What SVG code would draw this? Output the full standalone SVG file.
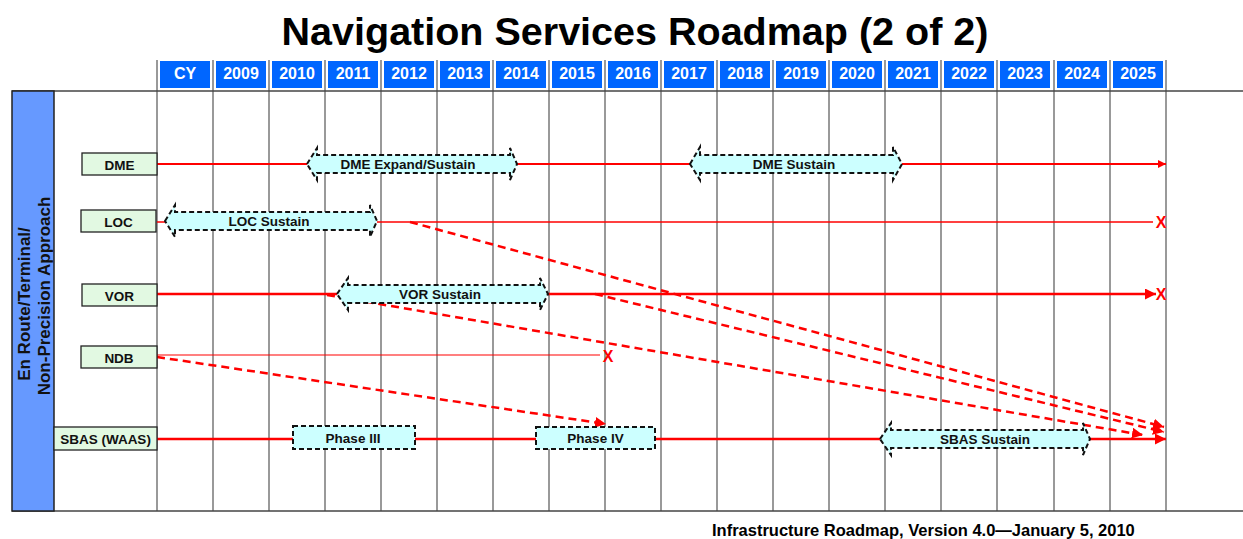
<svg xmlns="http://www.w3.org/2000/svg" width="1243" height="539" viewBox="0 0 1243 539">
  <style>
    text { font-family: "Liberation Sans", Arial, sans-serif; font-weight: bold; }
    .title { font-size: 39.5px; fill: #000; }
    .foot { font-size: 16.5px; fill: #000; }
    .yr { fill: #0066FF; }
    .yrt { font-size: 16px; fill: #fff; text-anchor: middle; }
    .grid { stroke: #999; stroke-width: 2; }
    .frame { stroke: #444; stroke-width: 1.5; fill: none; }
    .lbl { fill: #E2F9E2; stroke: #222; stroke-width: 1.3; }
    .lblt { font-size: 13.5px; fill: #111; text-anchor: middle; }
    .act { fill: #CCFFFF; stroke: #111; stroke-width: 2; stroke-dasharray: 5 3; }
    .actt { font-size: 13.5px; fill: #111; text-anchor: middle; }
    .red { stroke: #FF0000; fill: none; }
    .dash { stroke: #FF0000; stroke-width: 2.5; stroke-dasharray: 8 5; fill: none; }
    .x { font-size: 16px; fill: #FF0000; text-anchor: middle; }
    .cat { font-size: 17px; fill: #111; text-anchor: middle; }
  </style>
  <defs>
    <marker id="ah" viewBox="0 0 10 10" refX="10" refY="5" markerUnits="userSpaceOnUse" markerWidth="11" markerHeight="8" orient="auto">
      <path d="M0,0 L10,5 L0,10 Z" fill="#FF0000"/>
    </marker>
    <marker id="ahBig" viewBox="0 0 10 10" refX="10" refY="5" markerUnits="userSpaceOnUse" markerWidth="11" markerHeight="11" orient="auto">
      <path d="M0,0 L10,5 L0,10 Z" fill="#FF0000"/>
    </marker>
  </defs>

  <rect width="1243" height="539" fill="#fff"/>

  <text class="title" x="635" y="45" text-anchor="middle">Navigation Services Roadmap (2 of 2)</text>

  <!-- year header -->
  <g id="years">
    <rect class="yr" x="160" y="61" width="50" height="27"/><text class="yrt" x="185" y="79">CY</text>
    <rect class="yr" x="216" y="61" width="50" height="27"/><text class="yrt" x="241" y="79">2009</text>
    <rect class="yr" x="272" y="61" width="50" height="27"/><text class="yrt" x="297" y="79">2010</text>
    <rect class="yr" x="328" y="61" width="50" height="27"/><text class="yrt" x="353" y="79">2011</text>
    <rect class="yr" x="384" y="61" width="50" height="27"/><text class="yrt" x="409" y="79">2012</text>
    <rect class="yr" x="440" y="61" width="50" height="27"/><text class="yrt" x="465" y="79">2013</text>
    <rect class="yr" x="496" y="61" width="50" height="27"/><text class="yrt" x="521" y="79">2014</text>
    <rect class="yr" x="552" y="61" width="50" height="27"/><text class="yrt" x="577" y="79">2015</text>
    <rect class="yr" x="608" y="61" width="50" height="27"/><text class="yrt" x="633" y="79">2016</text>
    <rect class="yr" x="664" y="61" width="50" height="27"/><text class="yrt" x="689" y="79">2017</text>
    <rect class="yr" x="720" y="61" width="50" height="27"/><text class="yrt" x="745" y="79">2018</text>
    <rect class="yr" x="776" y="61" width="50" height="27"/><text class="yrt" x="801" y="79">2019</text>
    <rect class="yr" x="832" y="61" width="50" height="27"/><text class="yrt" x="857" y="79">2020</text>
    <rect class="yr" x="888" y="61" width="50" height="27"/><text class="yrt" x="913" y="79">2021</text>
    <rect class="yr" x="944" y="61" width="50" height="27"/><text class="yrt" x="969" y="79">2022</text>
    <rect class="yr" x="1000" y="61" width="50" height="27"/><text class="yrt" x="1025" y="79">2023</text>
    <rect class="yr" x="1057" y="61" width="50" height="27"/><text class="yrt" x="1082" y="79">2024</text>
    <rect class="yr" x="1113" y="61" width="50" height="27"/><text class="yrt" x="1138" y="79">2025</text>
  </g>

  <!-- grid -->
  <g id="grid">
    <line class="grid" x1="157" y1="60" x2="157" y2="511"/>
    <line class="grid" x1="213" y1="60" x2="213" y2="511"/>
    <line class="grid" x1="269" y1="60" x2="269" y2="511"/>
    <line class="grid" x1="325" y1="60" x2="325" y2="511"/>
    <line class="grid" x1="381" y1="60" x2="381" y2="511"/>
    <line class="grid" x1="437" y1="60" x2="437" y2="511"/>
    <line class="grid" x1="493" y1="60" x2="493" y2="511"/>
    <line class="grid" x1="549" y1="60" x2="549" y2="511"/>
    <line class="grid" x1="605" y1="60" x2="605" y2="511"/>
    <line class="grid" x1="661" y1="60" x2="661" y2="511"/>
    <line class="grid" x1="717" y1="60" x2="717" y2="511"/>
    <line class="grid" x1="773" y1="60" x2="773" y2="511"/>
    <line class="grid" x1="829" y1="60" x2="829" y2="511"/>
    <line class="grid" x1="885" y1="60" x2="885" y2="511"/>
    <line class="grid" x1="941" y1="60" x2="941" y2="511"/>
    <line class="grid" x1="997" y1="60" x2="997" y2="511"/>
    <line class="grid" x1="1054" y1="60" x2="1054" y2="511"/>
    <line class="grid" x1="1110" y1="60" x2="1110" y2="511"/>
    <line class="grid" x1="1166" y1="60" x2="1166" y2="511"/>
    <line class="frame" x1="12" y1="91" x2="1243" y2="91"/>
    <line class="frame" x1="12" y1="511" x2="1243" y2="511"/>
  </g>

  <!-- category band -->
  <g id="category">
    <rect x="12" y="91" width="42" height="420" fill="#6699FF" stroke="#222" stroke-width="1.5"/>
    <text class="cat" transform="translate(30,304) rotate(-90)">En Route/Terminal/</text>
    <text class="cat" transform="translate(50,296) rotate(-90)">Non-Precision Approach</text>
  </g>

  <!-- connectors -->
  <g id="connectors">
    <!-- DME -->
    <line class="red" stroke-width="2" x1="157" y1="164" x2="307" y2="164"/>
    <line class="red" stroke-width="2" x1="517" y1="164" x2="690" y2="164"/>
    <line class="red" stroke-width="2" x1="902" y1="164" x2="1166" y2="164" marker-end="url(#ah)"/>
    <!-- LOC -->
    <line class="red" stroke-width="1.5" x1="157" y1="222" x2="165" y2="222"/>
    <line class="red" stroke-width="1.5" x1="377" y1="222" x2="1153" y2="222"/>
    <!-- VOR -->
    <line class="red" stroke-width="2.5" x1="157" y1="294" x2="337" y2="294"/>
    <line class="red" stroke-width="2.5" x1="548" y1="294" x2="1156" y2="294" marker-end="url(#ahBig)"/>
    <!-- NDB -->
    <line class="red" stroke-width="1.2" x1="157" y1="355" x2="600" y2="355"/>
    <!-- SBAS -->
    <line class="red" stroke-width="2.5" x1="157" y1="439" x2="293" y2="439"/>
    <line class="red" stroke-width="2.5" x1="415" y1="439" x2="536" y2="439"/>
    <line class="red" stroke-width="2.5" x1="655" y1="439" x2="880" y2="439"/>
    <line class="red" stroke-width="2.5" x1="1090" y1="439" x2="1166" y2="439" marker-end="url(#ahBig)"/>
    <!-- transitions -->
    <line class="dash" x1="410" y1="222" x2="1164" y2="427" marker-end="url(#ahBig)"/>
    <line class="dash" x1="595" y1="294" x2="1164" y2="432" marker-end="url(#ahBig)"/>
    <line class="dash" x1="327" y1="295" x2="1143" y2="435" marker-end="url(#ahBig)"/>
    <line class="dash" x1="157" y1="357" x2="606" y2="424" marker-end="url(#ahBig)"/>
    <!-- decommission marks -->
    <text class="x" x="1161" y="228">X</text>
    <text class="x" x="1161" y="300">X</text>
    <text class="x" x="608" y="362">X</text>
  </g>

  <!-- service labels -->
  <g id="lbl-dme"><rect class="lbl" x="82" y="153" width="75" height="22"/><text class="lblt" x="119.5" y="169.5">DME</text></g>
  <g id="lbl-loc"><rect class="lbl" x="81" y="210" width="75" height="22"/><text class="lblt" x="118.5" y="226.5">LOC</text></g>
  <g id="lbl-vor"><rect class="lbl" x="82" y="284" width="75" height="22"/><text class="lblt" x="119.5" y="300.5">VOR</text></g>
  <g id="lbl-ndb"><rect class="lbl" x="81" y="346" width="76" height="22"/><text class="lblt" x="119" y="362.5">NDB</text></g>
  <g id="lbl-sbas"><rect class="lbl" x="54" y="427" width="103" height="23"/><text class="lblt" x="105.5" y="444">SBAS (WAAS)</text></g>

  <!-- activity bars -->
  <g id="dme-expand">
    <path class="act" d="M307,164 L317,148 L317,155 L510,155 L510,148 L517,164 L510,180 L510,173 L317,173 L317,180 Z"/>
    <text class="actt" x="408" y="169">DME Expand/Sustain</text>
  </g>
  <g id="dme-sustain">
    <path class="act" d="M690,164 L700,147 L700,155 L893,155 L893,147 L902,164 L893,180 L893,173 L700,173 L700,180 Z"/>
    <text class="actt" x="794" y="169">DME Sustain</text>
  </g>
  <g id="loc-sustain">
    <path class="act" d="M165,221 L175,205 L175,212 L370,212 L370,205 L377,221 L370,237 L370,230 L175,230 L175,237 Z"/>
    <text class="actt" x="269" y="226">LOC Sustain</text>
  </g>
  <g id="vor-sustain">
    <path class="act" d="M337,294 L348,278 L348,285 L540,285 L540,278 L548,294 L540,310 L540,303 L348,303 L348,310 Z"/>
    <text class="actt" x="440" y="299">VOR Sustain</text>
  </g>
  <g id="phase-3">
    <rect class="act" x="293" y="426" width="122" height="23"/>
    <text class="actt" x="353" y="442.5">Phase III</text>
  </g>
  <g id="phase-4">
    <rect class="act" x="536" y="427" width="119" height="22"/>
    <text class="actt" x="595.5" y="443">Phase IV</text>
  </g>
  <g id="sbas-sustain">
    <path class="act" d="M880,439 L891,423 L891,430 L1083,430 L1083,423 L1090,439 L1083,455 L1083,448 L891,448 L891,455 Z"/>
    <text class="actt" x="985" y="444">SBAS Sustain</text>
  </g>

  <text class="foot" x="712" y="536">Infrastructure Roadmap, Version 4.0—January 5, 2010</text>
</svg>
